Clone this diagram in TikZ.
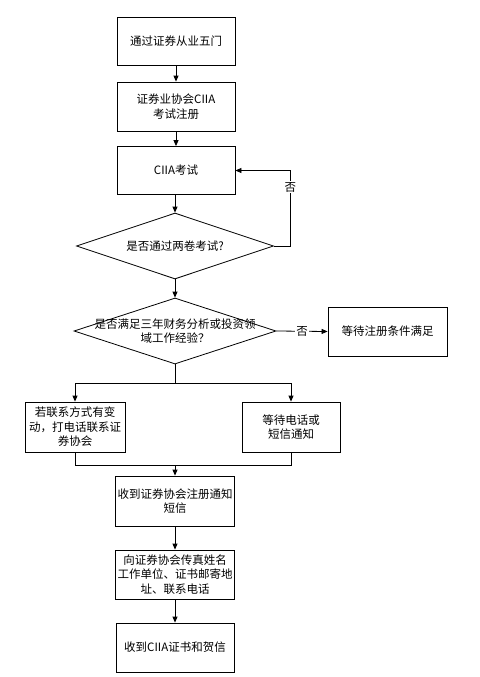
\documentclass[tikz,border=0pt]{standalone}
\usepackage{fontspec}
\setmainfont{Noto Sans CJK SC}
\usetikzlibrary{arrows.meta,shapes.geometric}

\tikzset{
    stepbox/.style={draw, line width=0.8pt, minimum width=118pt, minimum height=48pt,
        align=center, inner sep=2pt, font=\fontsize{11.5}{14.5}\selectfont},
    decision/.style={draw, diamond, line width=0.8pt, inner sep=0pt},
    arr/.style={line width=0.8pt, -{Triangle[length=6pt, width=5pt]}},
    link/.style={line width=0.8pt},
    nolabel/.style={fill=white, inner sep=1pt, font=\fontsize{11.5}{14}\selectfont}
}

\begin{document}
\begin{tikzpicture}[x=1pt, y=-1pt]
    \useasboundingbox (0,0) rectangle (479,677);

    % Main column
    \node[stepbox] (pass) at (176,41.5) {通过证券从业五门};
    \node[stepbox, minimum height=49pt] (reg) at (176,106.5) {证券业协会CIIA\\考试注册};
    \node[stepbox] (exam) at (176,170.5) {CIIA考试};

    % Decisions
    \node[decision, minimum width=197pt, minimum height=66pt] (both) at (175,246) {};
    \node[font=\fontsize{11.5}{14}\selectfont] (bothtext) at (both) {是否通过两卷考试?};
    \node[decision, minimum width=202pt, minimum height=66pt] (years) at (175,331) {};
    \node[align=center, font=\fontsize{11.5}{14.5}\selectfont] (yearstext) at (years)
        {是否满足三年财务分析或投资领\\域工作经验？};
    \node[stepbox, minimum width=119pt, minimum height=49pt] (wait) at (387.5,331.5) {等待注册条件满足};

    % Two parallel branches
    \node[stepbox, minimum width=100pt, minimum height=50pt] (phone) at (75,427)
        {若联系方式有变\\动，打电话联系证\\券协会};
    \node[stepbox, minimum width=98pt, minimum height=50pt] (sms) at (291,427) {等待电话或\\短信通知};
    \coordinate (split) at (175,383);
    \coordinate (join) at (175,465);

    % Lower column
    \node[stepbox, minimum height=50pt] (notice) at (175,501) {收到证券协会注册通知\\短信};
    \node[stepbox, minimum height=49pt] (fax) at (175,574.5) {向证券协会传真姓名\\工作单位、证书邮寄地\\址、联系电话};
    \node[stepbox, minimum height=49pt] (cert) at (175,647.5) {收到CIIA证书和贺信};

    % Connectors
    \draw[arr] (pass) -- (reg);
    \draw[arr] (reg) -- (exam);
    \draw[arr] (exam.south -| both.north) -- (both.north);
    \draw[arr] (both.east) -- ++(16.5,0) |- (exam.east) node[pos=0.39, nolabel] {否};
    \draw[arr] (both.south) -- (years.north);
    \draw[arr] (years.east) -- (wait.west) node[midway, nolabel] {否};

    \draw[link] (years.south) -- (split);
    \draw[arr] (split) -| (phone.north);
    \draw[arr] (split) -| (sms.north);
    \draw[link] (phone.south) |- (join);
    \draw[link] (sms.south) |- (join);
    \draw[arr] (join) -- (notice.north);

    \draw[arr] (notice) -- (fax);
    \draw[arr] (fax) -- (cert);
\end{tikzpicture}
\end{document}
